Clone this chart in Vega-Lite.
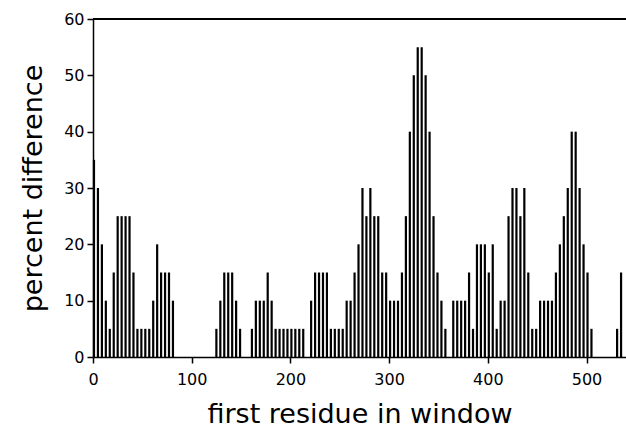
{
  "$schema": "https://vega.github.io/schema/vega-lite/v6.json",
  "width": 533,
  "height": 338,
  "autosize": {"type": "none"},
  "padding": {"left": 93, "top": 19, "right": 0, "bottom": 76},
  "background": "white",
  "config": {
    "view": {"stroke": null},
    "font": "DejaVu Sans",
    "axis": {
      "domainColor": "black",
      "domainWidth": 1.5,
      "tickColor": "black",
      "tickWidth": 1.5,
      "tickSize": 6,
      "labelColor": "black",
      "labelFont": "DejaVu Sans",
      "labelFontSize": 16,
      "labelFlush": false,
      "titleColor": "black",
      "titleFont": "DejaVu Sans",
      "titleFontSize": 27,
      "titleFontWeight": "normal",
      "grid": false
    }
  },
  "data": {
    "values": [
      {"r": 1, "v": 35}, {"r": 5, "v": 30}, {"r": 9, "v": 20}, {"r": 13, "v": 10}, {"r": 17, "v": 5},
      {"r": 21, "v": 15}, {"r": 25, "v": 25}, {"r": 29, "v": 25}, {"r": 33, "v": 25}, {"r": 37, "v": 25},
      {"r": 41, "v": 15}, {"r": 45, "v": 5}, {"r": 49, "v": 5}, {"r": 53, "v": 5}, {"r": 57, "v": 5},
      {"r": 61, "v": 10}, {"r": 65, "v": 20}, {"r": 69, "v": 15}, {"r": 73, "v": 15}, {"r": 77, "v": 15},
      {"r": 81, "v": 10},
      {"r": 125, "v": 5}, {"r": 129, "v": 10}, {"r": 133, "v": 15}, {"r": 137, "v": 15}, {"r": 141, "v": 15},
      {"r": 145, "v": 10}, {"r": 149, "v": 5},
      {"r": 161, "v": 5}, {"r": 165, "v": 10}, {"r": 169, "v": 10}, {"r": 173, "v": 10}, {"r": 177, "v": 15},
      {"r": 181, "v": 10}, {"r": 185, "v": 5}, {"r": 189, "v": 5}, {"r": 193, "v": 5}, {"r": 197, "v": 5},
      {"r": 201, "v": 5}, {"r": 205, "v": 5}, {"r": 209, "v": 5}, {"r": 213, "v": 5},
      {"r": 221, "v": 10}, {"r": 225, "v": 15}, {"r": 229, "v": 15}, {"r": 233, "v": 15}, {"r": 237, "v": 15},
      {"r": 241, "v": 5}, {"r": 245, "v": 5}, {"r": 249, "v": 5}, {"r": 253, "v": 5}, {"r": 257, "v": 10},
      {"r": 261, "v": 10}, {"r": 265, "v": 15}, {"r": 269, "v": 20}, {"r": 273, "v": 30}, {"r": 277, "v": 25},
      {"r": 281, "v": 30}, {"r": 285, "v": 25}, {"r": 289, "v": 25}, {"r": 293, "v": 15}, {"r": 297, "v": 15},
      {"r": 301, "v": 10}, {"r": 305, "v": 10}, {"r": 309, "v": 10}, {"r": 313, "v": 15}, {"r": 317, "v": 25},
      {"r": 321, "v": 40}, {"r": 325, "v": 50}, {"r": 329, "v": 55}, {"r": 333, "v": 55}, {"r": 337, "v": 50},
      {"r": 341, "v": 40}, {"r": 345, "v": 25}, {"r": 349, "v": 15}, {"r": 353, "v": 10}, {"r": 357, "v": 5},
      {"r": 365, "v": 10}, {"r": 369, "v": 10}, {"r": 373, "v": 10}, {"r": 377, "v": 10}, {"r": 381, "v": 15},
      {"r": 385, "v": 5}, {"r": 389, "v": 20}, {"r": 393, "v": 20}, {"r": 397, "v": 20}, {"r": 401, "v": 15},
      {"r": 405, "v": 20}, {"r": 409, "v": 5}, {"r": 413, "v": 10}, {"r": 417, "v": 10}, {"r": 421, "v": 25},
      {"r": 425, "v": 30}, {"r": 429, "v": 30}, {"r": 433, "v": 25}, {"r": 437, "v": 30}, {"r": 441, "v": 15},
      {"r": 445, "v": 5}, {"r": 449, "v": 5}, {"r": 453, "v": 10}, {"r": 457, "v": 10}, {"r": 461, "v": 10},
      {"r": 465, "v": 10}, {"r": 469, "v": 15}, {"r": 473, "v": 20}, {"r": 477, "v": 25}, {"r": 481, "v": 30},
      {"r": 485, "v": 40}, {"r": 489, "v": 40}, {"r": 493, "v": 30}, {"r": 497, "v": 20}, {"r": 501, "v": 15},
      {"r": 505, "v": 5},
      {"r": 531, "v": 5}, {"r": 535, "v": 15}
    ]
  },
  "layer": [
    {
      "mark": {"type": "rule", "color": "black", "strokeWidth": 2.2},
      "encoding": {
        "x": {
          "field": "r",
          "type": "quantitative",
          "scale": {"domain": [0, 540], "nice": false, "zero": false},
          "axis": {"values": [0, 100, 200, 300, 400, 500], "title": "first residue in window", "titlePadding": 14, "labelPadding": 8}
        },
        "y": {
          "field": "v",
          "type": "quantitative",
          "scale": {"domain": [0, 60], "nice": false},
          "axis": {"values": [0, 10, 20, 30, 40, 50, 60], "title": "percent difference", "titlePadding": 16, "labelPadding": 3}
        },
        "y2": {"datum": 0}
      }
    },
    {
      "mark": {"type": "rule", "color": "black", "strokeWidth": 1.5},
      "encoding": {"y": {"datum": 60}}
    }
  ]
}
